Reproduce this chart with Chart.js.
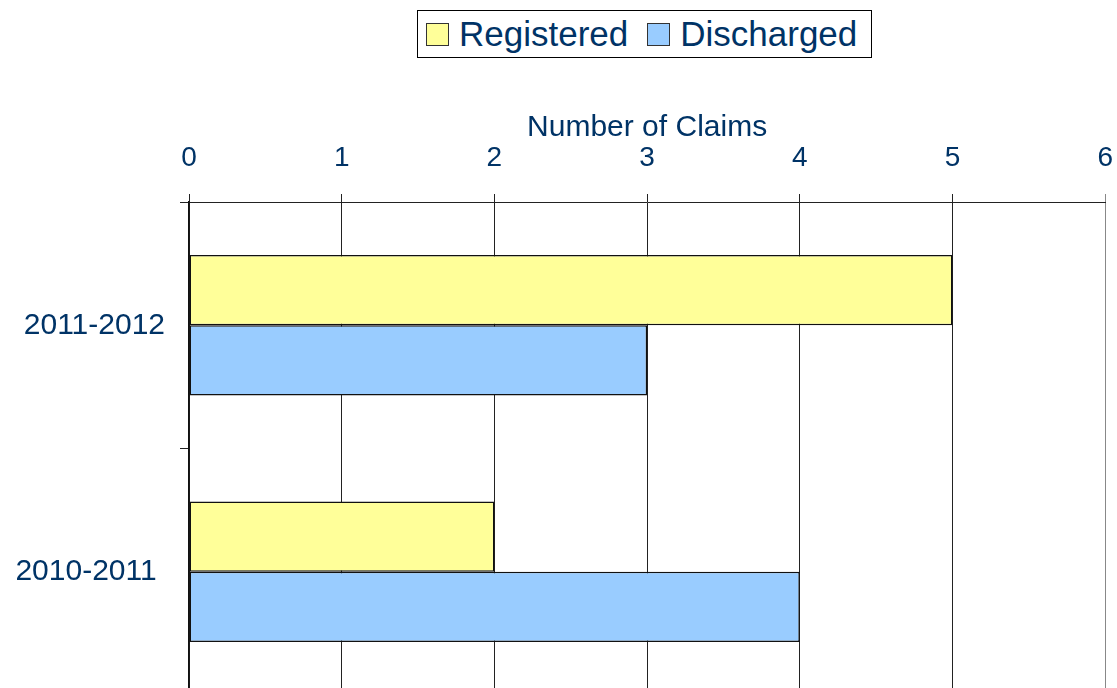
<!DOCTYPE html>
<html>
<head>
<meta charset="utf-8">
<script src="https://cdn.jsdelivr.net/npm/chart.js@4.4.1/dist/chart.umd.min.js"></script>
<style>
    html, body { margin: 0; padding: 0; overflow: hidden; background: #fff; }
    #wrap { position: relative; width: 1117px; height: 688px; overflow: hidden; }
    #chartClaims { position: absolute; left: 0; top: 0; }
    #legend {
        position: absolute; left: 417px; top: 10px; width: 453px; height: 46px;
        border: 1px solid #000; background: #fff;
        display: flex; align-items: center;
        font-family: "Liberation Sans", Arial, sans-serif; font-size: 35px; color: #003366;
    }
    .item { display: flex; align-items: center; }
    .swatch { width: 21px; height: 21px; border: 1px solid #333; margin: 0 10px 0 8px; }
    .item + .item .swatch { margin-left: 19px; }
</style>
</head>
<body>
<div id="wrap">
    <canvas id="chartClaims" width="1132" height="728"></canvas>
    <div id="legend"></div>
</div>
<script>
// dados do gráfico
const categorias = ['2011-2012', '2010-2011'];
const registrados = [5, 2];
const quitados = [3, 4];
const serieNomes = ['Registered', 'Discharged'];
const serieCores = ['#FFFF99', '#99CCFF'];
const tituloEixo = 'Number of Claims';

document.addEventListener('DOMContentLoaded', () => {
    // legenda em HTML com moldura
    const legend = document.getElementById('legend');
    serieNomes.forEach((nome, i) => {
        const item = document.createElement('div');
        item.className = 'item';
        item.innerHTML = '<span class="swatch" style="background:' + serieCores[i] + '"></span><span>' + nome + '</span>';
        legend.appendChild(item);
    });

    const fonte = '"Liberation Sans", Arial, sans-serif';
    const azul = '#003366';

    new Chart(document.getElementById('chartClaims'), {
        type: 'bar',
        data: {
            labels: categorias,
            datasets: [
                {
                    label: serieNomes[0],
                    data: registrados,
                    backgroundColor: serieCores[0],
                    borderColor: '#111',
                    borderWidth: 1.5,
                    borderSkipped: false
                },
                {
                    label: serieNomes[1],
                    data: quitados,
                    backgroundColor: serieCores[1],
                    borderColor: '#111',
                    borderWidth: 1.5,
                    borderSkipped: false
                }
            ]
        },
        options: {
            indexAxis: 'y',
            responsive: false,
            animation: false,
            categoryPercentage: 0.57,
            barPercentage: 1.0,
            layout: { padding: { left: 0, right: 12, top: 0, bottom: 6 } },
            plugins: {
                legend: { display: false },
                tooltip: { enabled: false }
            },
            scales: {
                x: {
                    position: 'top',
                    min: 0,
                    max: 6,
                    ticks: { stepSize: 1, color: azul, font: { family: fonte, size: 28 }, padding: 19 },
                    grid: {
                        color: (ctx) => ctx.index === 6 ? '#888' : '#222',
                        lineWidth: 1,
                        tickLength: 8
                    },
                    border: { color: '#222', width: 1 },
                    title: {
                        display: true,
                        text: tituloEixo,
                        color: azul,
                        font: { family: fonte, size: 30 },
                        padding: { top: 110, bottom: 0 }
                    },
                    afterFit: (scale) => { scale.height = 202; }
                },
                y: {
                    offset: true,
                    ticks: {
                        color: azul,
                        font: { family: fonte, size: 30 },
                        padding: 15,
                        // o rótulo de baixo fica um pouco mais à esquerda no original
                        callback: (v, i) => categorias[i] + (i === 1 ? ' ' : '')
                    },
                    grid: { offset: true, drawOnChartArea: false, color: '#222', tickLength: 9 },
                    border: { color: '#111', width: 1.5 },
                    afterFit: (scale) => { scale.width = 189; }
                }
            }
        }
    });
});
</script>
</body>
</html>
